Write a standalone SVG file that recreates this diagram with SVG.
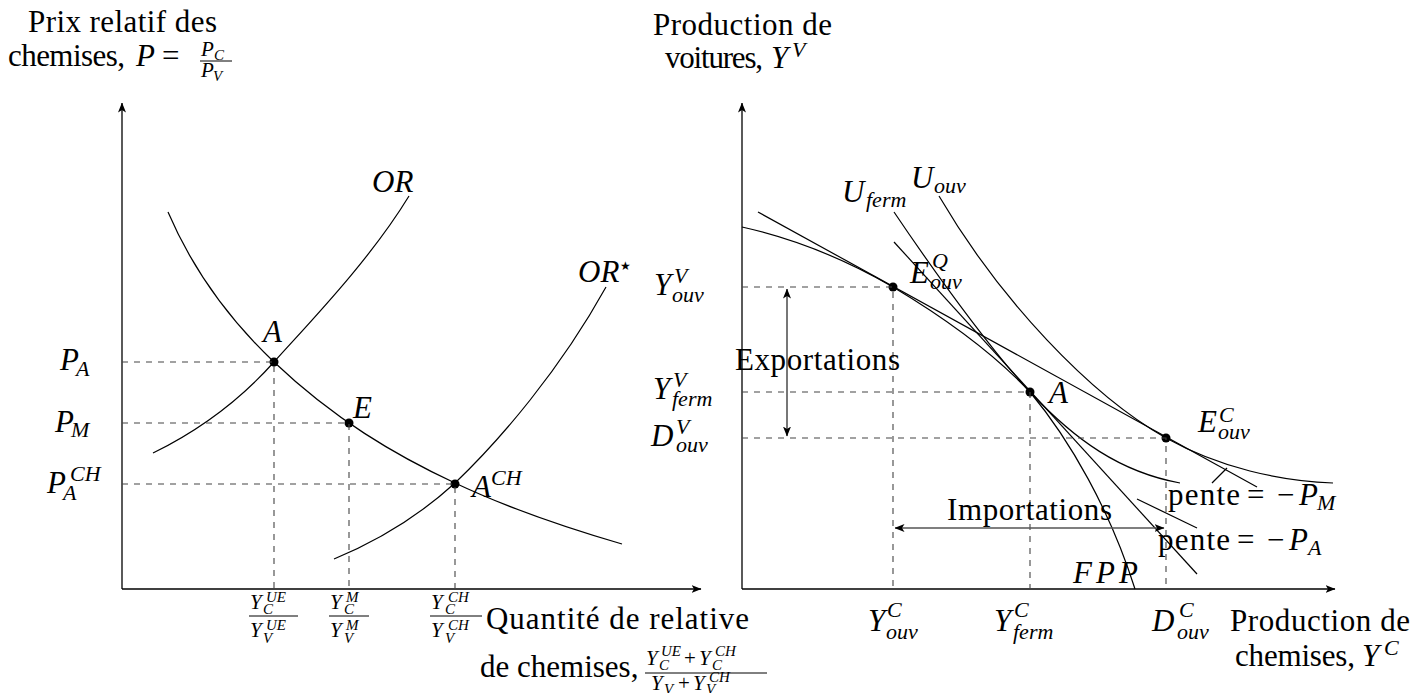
<svg xmlns="http://www.w3.org/2000/svg" width="1413" height="693" viewBox="0 0 1413 693">
<style>
text{font-family:"Liberation Serif","Times New Roman",serif;font-size:31px;fill:#000}
.i{font-style:italic}
.s{font-size:22px}
.f{font-size:21px}
.fs{font-size:15px}
.ax{stroke:#000;stroke-width:1.3;fill:none}
.cv{stroke:#000;stroke-width:1.2;fill:none}
.ds{stroke:#444;stroke-width:1.1;stroke-dasharray:6 6;fill:none}
.ar{stroke:#555;stroke-width:1.6;fill:none}
.bar{stroke:#000;stroke-width:1;fill:none}
.dot{fill:#000}
</style>
<defs>
<marker id="ah" viewBox="0 0 10 8" refX="9.5" refY="4" markerWidth="10" markerHeight="8" orient="auto-start-reverse" markerUnits="userSpaceOnUse"><path d="M0,0 L10,4 L0,8 L2.5,4 z" fill="#000"/></marker>
</defs>

<!-- LEFT PANEL -->
<g id="left-axes">
<path class="ax" d="M122,589 L122,103" marker-end="url(#ah)"/>
<path class="ax" d="M122,589 L701,589" marker-end="url(#ah)"/>
</g>
<g id="left-axis-title-y">
<text x="28" y="32" textLength="189">Prix relatif des</text>
<text x="8" y="66" textLength="117">chemises,</text>
<text class="i" x="136" y="66">P</text>
<text x="162" y="66">=</text>
<text class="i f" x="201" y="56">P</text>
<text class="i fs" x="214" y="60">C</text>
<line class="bar" x1="200" y1="61" x2="232" y2="61"/>
<text class="i f" x="201" y="77">P</text>
<text class="i fs" x="213" y="81">V</text>
</g>
<g id="left-axis-title-x">
<text x="486" y="629" textLength="263">Quantité de relative</text>
<text x="480" y="677">de chemises,</text>
<text class="i f" x="646" y="665">Y</text>
<text class="i fs" x="661" y="656">UE</text>
<text class="i fs" x="659" y="670">C</text>
<text class="f" x="684" y="665">+</text>
<text class="i f" x="699" y="665">Y</text>
<text class="i fs" x="715" y="656">CH</text>
<text class="i fs" x="712" y="670">C</text>
<line class="bar" x1="645" y1="673" x2="767" y2="673"/>
<text class="i f" x="651" y="690">Y</text>
<text class="i fs" x="664" y="694">V</text>
<text class="f" x="678" y="690">+</text>
<text class="i f" x="693" y="690">Y</text>
<text class="i fs" x="709" y="682">CH</text>
<text class="i fs" x="706" y="694">V</text>
</g>

<g id="curve-OR">
<path class="cv" d="M153,453 C200,430 240,400 274,362 C310,322 370,260 409,196"/>
<text class="i" x="372" y="192">OR</text>
</g>
<g id="curve-OR-star">
<path class="cv" d="M334,559 C380,540 420,515 455,483 C500,440 560,370 606,287"/>
<text class="i" x="578" y="282">OR</text>
<text x="620" y="270" style="font-family:'DejaVu Sans',sans-serif;font-size:12px">★</text>
</g>
<g id="curve-RD">
<path class="cv" d="M168,212 C195,275 235,325 274,362 C334,419 395,455 455,483 C510,509 567,528 622,544"/>
</g>

<g id="left-y-labels">
<text class="i" x="60" y="370">P</text>
<text class="i s" x="76" y="376">A</text>
<text class="i" x="55" y="432">P</text>
<text class="i s" x="71" y="437">M</text>
<text class="i" x="47" y="493">P</text>
<text class="i s" x="63" y="500">A</text>
<text class="i s" x="70" y="481">CH</text>
</g>

<g id="left-x-labels">
<text class="i f" x="250" y="609">Y</text>
<text class="i fs" x="266" y="602">UE</text>
<text class="i fs" x="263" y="614">C</text>
<line class="bar" x1="249" y1="616" x2="298" y2="616"/>
<text class="i f" x="250" y="637">Y</text>
<text class="i fs" x="266" y="630">UE</text>
<text class="i fs" x="263" y="643">V</text>

<text class="i f" x="330" y="609">Y</text>
<text class="i fs" x="346" y="602">M</text>
<text class="i fs" x="344" y="614">C</text>
<line class="bar" x1="329" y1="616" x2="369" y2="616"/>
<text class="i f" x="330" y="637">Y</text>
<text class="i fs" x="346" y="630">M</text>
<text class="i fs" x="344" y="643">V</text>

<text class="i f" x="431" y="609">Y</text>
<text class="i fs" x="448" y="602">CH</text>
<text class="i fs" x="445" y="614">C</text>
<line class="bar" x1="430" y1="616" x2="482" y2="616"/>
<text class="i f" x="431" y="637">Y</text>
<text class="i fs" x="448" y="630">CH</text>
<text class="i fs" x="445" y="643">V</text>
</g>

<g id="point-A">
<circle class="dot" cx="274" cy="362" r="4.5"/>
<text class="i" x="263" y="342">A</text>
</g>
<g id="point-E">
<circle class="dot" cx="349" cy="423" r="4.5"/>
<text class="i" x="353" y="418">E</text>
</g>
<g id="point-ACH">
<circle class="dot" cx="455" cy="484" r="4.5"/>
<text class="i" x="472" y="497">A</text>
<text class="i s" x="491" y="485">CH</text>
</g>

<!-- RIGHT PANEL -->
<g id="right-axes">
<path class="ax" d="M742,589 L742,103" marker-end="url(#ah)"/>
<path class="ax" d="M742,589 L1335,589" marker-end="url(#ah)"/>
</g>
<g id="right-axis-title-y">
<text x="653" y="35" textLength="179">Production de</text>
<text x="665" y="68" textLength="98">voitures,</text>
<text class="i" x="771" y="68">Y</text>
<text class="i s" x="792" y="57">V</text>
</g>
<g id="right-axis-title-x">
<text x="1230" y="631" textLength="180">Production de</text>
<text x="1235" y="666" textLength="120">chemises,</text>
<text class="i" x="1362" y="666">Y</text>
<text class="i s" x="1384" y="655">C</text>
</g>

<g id="right-y-labels">
<text class="i" x="654" y="295">Y</text>
<text class="i s" x="674" y="283">V</text>
<text class="i s" x="672" y="302">ouv</text>
<text class="i" x="653" y="399">Y</text>
<text class="i s" x="673" y="387">V</text>
<text class="i s" x="672" y="406">ferm</text>
<text class="i" x="651" y="446">D</text>
<text class="i s" x="676" y="434">V</text>
<text class="i s" x="676" y="452">ouv</text>
</g>
<g id="right-x-labels">
<text class="i" x="868" y="631">Y</text>
<text class="i s" x="887" y="617">C</text>
<text class="i s" x="886" y="639">ouv</text>
<text class="i" x="994" y="631">Y</text>
<text class="i s" x="1014" y="617">C</text>
<text class="i s" x="1013" y="639">ferm</text>
<text class="i" x="1152" y="631">D</text>
<text class="i s" x="1179" y="617">C</text>
<text class="i s" x="1177" y="639">ouv</text>
</g>

<g id="curve-FPP">
<path class="cv" d="M742,227 C800,240 850,262 893,287 C960,327 1000,360 1030,392 C1070,440 1110,510 1135,589"/>
<text class="i" x="1073" y="583" textLength="65">FPP</text>
</g>
<g id="line-pente-PM">
<path class="cv" d="M758,212 L1257,487"/>
<path class="cv" d="M1212,483 L1227,468"/>
<text x="1168" y="505" textLength="72">pente</text>
<text x="1247" y="505">=</text>
<text x="1277" y="505">−</text>
<text class="i" x="1299" y="505">P</text>
<text class="i s" x="1317" y="510">M</text>
</g>
<g id="line-pente-PA">
<path class="cv" d="M894,242 L1197,574"/>
<path class="cv" d="M1137,499 L1197,528"/>
<text x="1158" y="550" textLength="72">pente</text>
<text x="1237" y="550">=</text>
<text x="1267" y="550">−</text>
<text class="i" x="1289" y="550">P</text>
<text class="i s" x="1308" y="555">A</text>
</g>
<g id="curve-Uferm">
<path class="cv" d="M894,212 C950,295 1000,360 1030,392 C1075,440 1120,472 1180,483"/>
<text class="i" x="842" y="202">U</text>
<text class="i s" x="866" y="207">ferm</text>
</g>
<g id="curve-Uouv">
<path class="cv" d="M939,196 C1000,300 1090,395 1166,438 C1220,468 1280,481 1333,483"/>
<text class="i" x="911" y="188">U</text>
<text class="i s" x="934" y="193">ouv</text>
</g>

<g id="point-EQ">
<circle class="dot" cx="893" cy="287" r="4.5"/>
<text class="i" x="910" y="283">E</text>
<text class="i s" x="932" y="268">Q</text>
<text class="i s" x="930" y="289">ouv</text>
</g>
<g id="point-A-right">
<circle class="dot" cx="1030" cy="392" r="4.5"/>
<text class="i" x="1049" y="403">A</text>
</g>
<g id="point-EC">
<circle class="dot" cx="1166" cy="438" r="4.5"/>
<text class="i" x="1198" y="432">E</text>
<text class="i s" x="1219" y="422">C</text>
<text class="i s" x="1218" y="439">ouv</text>
</g>

<g id="connectors">
<path class="ds" d="M122,362 H274 V589"/>
<path class="ds" d="M122,423 H349 V589"/>
<path class="ds" d="M122,484 H455 V589"/>
<path class="ds" d="M742,287 H893 V589"/>
<path class="ds" d="M742,392 H1030 V589"/>
<path class="ds" d="M742,438 H1166 V589"/>
<path class="ar" d="M787,289 L787,436" marker-start="url(#ah)" marker-end="url(#ah)"/>
<path class="ar" d="M895,528 L1164,528" marker-start="url(#ah)" marker-end="url(#ah)"/>
</g>
<g id="label-exportations">
<text x="735" y="370" textLength="165">Exportations</text>
</g>
<g id="label-importations">
<text x="947" y="520" textLength="165">Importations</text>
</g>
</svg>
